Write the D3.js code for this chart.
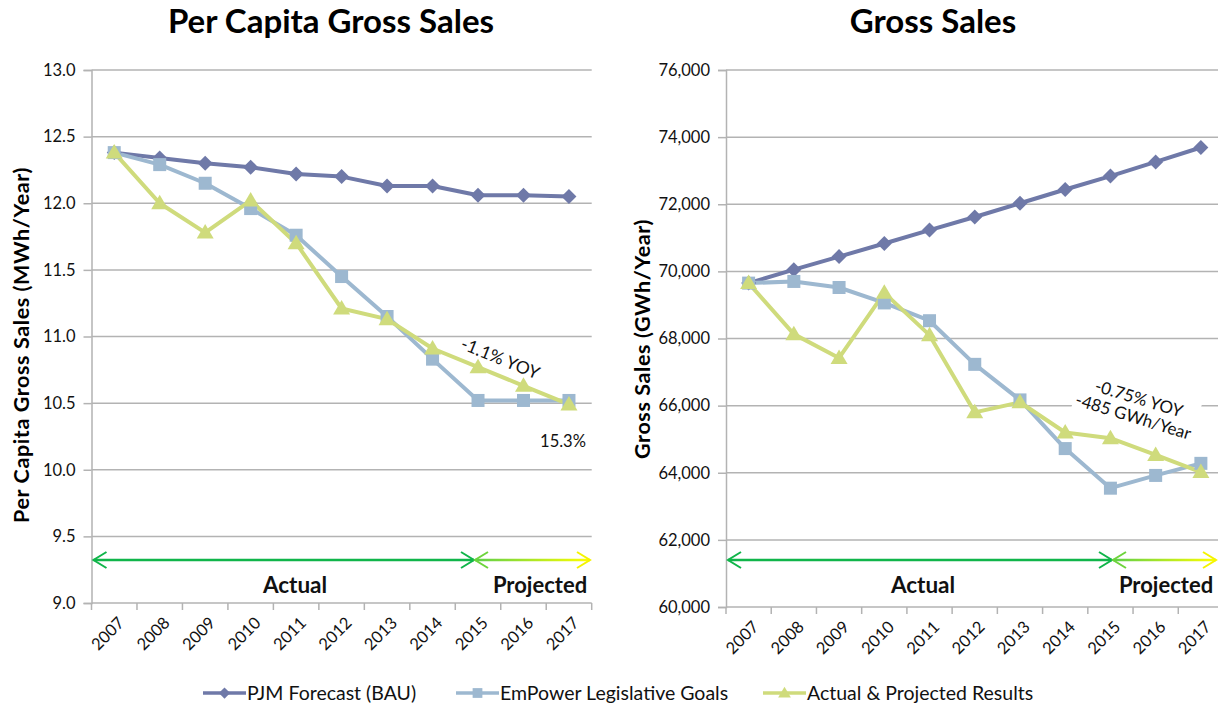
<!DOCTYPE html>
<html><head><meta charset="utf-8">
<script src="https://cdn.jsdelivr.net/npm/d3@7"></script>
<style>body{margin:0;background:#fff;}svg{display:block;font-family:Lato, "Open Sans", sans-serif;}</style>
</head><body><svg id="c" width="1218" height="707"></svg>
<script>
const years = ["2007","2008","2009","2010","2011","2012","2013","2014","2015","2016","2017"];
const seriesNames = ["PJM Forecast (BAU)","EmPower Legislative Goals","Actual & Projected Results"];
// Per capita (MWh/Year)
const perCapitaPJM =     [12.38,12.34,12.30,12.27,12.22,12.20,12.13,12.13,12.06,12.06,12.05];
const perCapitaEmPower = [12.38,12.29,12.15,11.96,11.76,11.45,11.15,10.83,10.52,10.52,10.52];
const perCapitaActual =  [12.38,12.00,11.78,12.02,11.70,11.21,11.13,10.91,10.77,10.63,10.49];
const perCapitaTicks = [9.0,9.5,10.0,10.5,11.0,11.5,12.0,12.5,13.0];
// Gross sales (GWh/Year)
const grossPJM =     [69650,70050,70440,70830,71230,71620,72030,72440,72840,73260,73690];
const grossEmPower = [69650,69700,69520,69060,68530,67230,66170,64720,63540,63920,64280];
const grossActual =  [69650,68130,67420,69360,68100,65800,66100,65200,65030,64530,64020];
const grossTicks = [60000,62000,64000,66000,68000,70000,72000,74000,76000];

const colors = ["#6f79a8","#9db8d0","#cfdb7c"];
const svg = d3.select("#c");
const defs = svg.append("defs");
const grad = defs.append("linearGradient").attr("id","pg").attr("x1","0%").attr("x2","100%");
grad.append("stop").attr("offset","0%").attr("stop-color","#5ccf4a");
grad.append("stop").attr("offset","100%").attr("stop-color","#ffff00");

function marker(g, type, x, y, color, s){
  s = s || 1;
  if(type===0){
    g.append("path").attr("d",`M${x},${y-7.5*s}L${x+7.5*s},${y}L${x},${y+7.5*s}L${x-7.5*s},${y}Z`).attr("fill",color);
  } else if(type===1){
    g.append("rect").attr("x",x-6.5*s).attr("y",y-6.5*s).attr("width",13*s).attr("height",13*s).attr("fill",color);
  } else {
    g.append("path").attr("d",`M${x},${y-8.5*s}L${x+8.5*s},${y+6*s}L${x-8.5*s},${y+6*s}Z`).attr("fill",color);
  }
}

function chart(opt){
  const g = svg.append("g");
  const x = d3.scaleBand().domain(years).range([opt.x0,opt.x1]);
  const y = d3.scaleLinear().domain(opt.domain).range([opt.yb,opt.yt]);
  // gridlines
  g.append("g").selectAll("line").data(opt.ticks).join("line")
    .attr("x1",opt.x0).attr("x2",opt.x1).attr("y1",d=>y(d)).attr("y2",d=>y(d))
    .attr("stroke","#b3b3b3").attr("stroke-width",1.5);
  // y axis
  const ya = g.append("g").attr("transform",`translate(${opt.x0},0)`)
    .call(d3.axisLeft(y).tickValues(opt.ticks).tickFormat(opt.fmt).tickSize(8).tickPadding(8));
  ya.select(".domain").attr("stroke","#b3b3b3").attr("stroke-width",1.5);
  ya.selectAll(".tick line").attr("stroke","#b3b3b3").attr("stroke-width",1.5);
  ya.selectAll("text").attr("font-size",16.5).attr("fill","#111").attr("font-family","Lato");
  // x axis
  const xa = g.append("g").attr("transform",`translate(0,${opt.yb})`)
    .call(d3.axisBottom(x).tickSize(0).tickPadding(0));
  xa.select(".domain").remove();
  xa.selectAll(".tick text").attr("font-size",16.5).attr("fill","#111").attr("font-family","Lato")
    .attr("text-anchor","end").attr("transform","translate(7,17) rotate(-45)").attr("dy","0.35em");
  // band tick marks
  const edges = years.map(d=>x(d)).concat([opt.x1]);
  g.append("g").selectAll("line").data(edges).join("line")
    .attr("x1",d=>d).attr("x2",d=>d).attr("y1",opt.yb).attr("y2",opt.yb+7)
    .attr("stroke","#b3b3b3").attr("stroke-width",1.5);
  // arrows
  const ay = opt.arrowY;
  const ag = g.append("g");
  ag.append("line").attr("x1",opt.x0+2).attr("x2",opt.split).attr("y1",ay).attr("y2",ay).attr("stroke","#10b54a").attr("stroke-width",2.5);
  ag.append("path").attr("d",`M${opt.x0+15},${ay-8}L${opt.x0+2},${ay}L${opt.x0+15},${ay+8}`).attr("fill","none").attr("stroke","#10b54a").attr("stroke-width",2);
  ag.append("path").attr("d",`M${opt.split-13},${ay-8}L${opt.split},${ay}L${opt.split-13},${ay+8}`).attr("fill","none").attr("stroke","#10b54a").attr("stroke-width",2);
  ag.append("rect").attr("x",opt.split+1).attr("y",ay-1.25).attr("width",opt.arrowEnd-opt.split-1).attr("height",2.5).attr("fill","url(#pg)");
  ag.append("path").attr("d",`M${opt.split+14},${ay-8}L${opt.split+1},${ay}L${opt.split+14},${ay+8}`).attr("fill","none").attr("stroke","#6dd43c").attr("stroke-width",2);
  ag.append("path").attr("d",`M${opt.arrowEnd-13},${ay-8}L${opt.arrowEnd},${ay}L${opt.arrowEnd-13},${ay+8}`).attr("fill","none").attr("stroke","#f4f400").attr("stroke-width",2);
  g.append("text").attr("x",opt.actualX).attr("y",ay+33).attr("text-anchor","middle").attr("font-weight","bold").attr("font-size",22.5).attr("fill","#111").text("Actual");
  g.append("text").attr("x",opt.projX).attr("y",ay+33).attr("text-anchor","middle").attr("font-weight","bold").attr("font-size",22).attr("fill","#111").text("Projected");
  // series
  const line = d3.line().x((d,i)=>x(years[i])+x.bandwidth()/2).y(d=>y(d));
  opt.series.forEach((s,k)=>{
    g.append("path").datum(s).attr("d",line).attr("fill","none").attr("stroke",colors[k]).attr("stroke-width",4).attr("stroke-linejoin","round");
  });
  opt.series.forEach((s,k)=>{
    s.forEach((v,i)=>marker(g,k,x(years[i])+x.bandwidth()/2,y(v),colors[k]));
  });
  // titles
  svg.append("text").attr("x",opt.titleX).attr("y",33).attr("text-anchor","middle").attr("font-weight","bold").attr("font-size",33).attr("fill","#000").text(opt.title);
  svg.append("text").attr("transform",`translate(${opt.ytX},${opt.ytY}) rotate(-90)`).attr("text-anchor","middle").attr("font-weight","bold").attr("font-size",21.5).attr("letter-spacing",0.6).attr("fill","#000").text(opt.ytitle);
  return {g,x,y};
}

const L = chart({x0:91.5,x1:591.7,yt:70,yb:603,domain:[9,13],ticks:perCapitaTicks,fmt:d3.format(".1f"),
  series:[perCapitaPJM,perCapitaEmPower,perCapitaActual],arrowY:560,split:474,arrowEnd:590,actualX:295,projX:540,
  title:"Per Capita Gross Sales",titleX:331,ytitle:"Per Capita Gross Sales (MWh/Year)",ytX:29,ytY:345});
const R = chart({x0:726,x1:1223.5,yt:70,yb:607,domain:[60000,76000],ticks:grossTicks,fmt:d3.format(","),
  series:[grossPJM,grossEmPower,grossActual],arrowY:560,split:1112,arrowEnd:1216,actualX:923,projX:1166,
  title:"Gross Sales",titleX:933,ytitle:"Gross Sales (GWh/Year)",ytX:650,ytY:339});

// annotations
L.g.append("text").attr("transform","translate(498,364) rotate(22)").attr("text-anchor","middle").attr("font-size",17.5).attr("fill","#111").text("-1.1% YOY");
L.g.append("text").attr("x",563).attr("y",447).attr("text-anchor","middle").attr("font-size",16.5).attr("fill","#111").text("15.3%");
const ann = R.g.append("g").attr("transform","translate(1136,408) rotate(17)");
ann.append("rect").attr("x",-62).attr("y",-24).attr("width",124).attr("height",44).attr("fill","#fff");
ann.append("text").attr("x",0).attr("y",-4).attr("text-anchor","middle").attr("font-size",17).attr("fill","#111").text("-0.75% YOY");
ann.append("text").attr("x",0).attr("y",15).attr("text-anchor","middle").attr("font-size",17).attr("fill","#111").text("-485 GWh/Year");

// legend
const legX = [203,456,763];
const lg = svg.append("g");
seriesNames.forEach((n,k)=>{
  const lx = legX[k], ly = 693;
  lg.append("line").attr("x1",lx).attr("x2",lx+43).attr("y1",ly).attr("y2",ly).attr("stroke",colors[k]).attr("stroke-width",3.5);
  marker(lg,k,lx+21.5,ly,colors[k],0.75);
  lg.append("text").attr("x",lx+44).attr("y",ly+7).attr("font-size",19.5).attr("fill","#111").text(n);
});
</script></body></html>
